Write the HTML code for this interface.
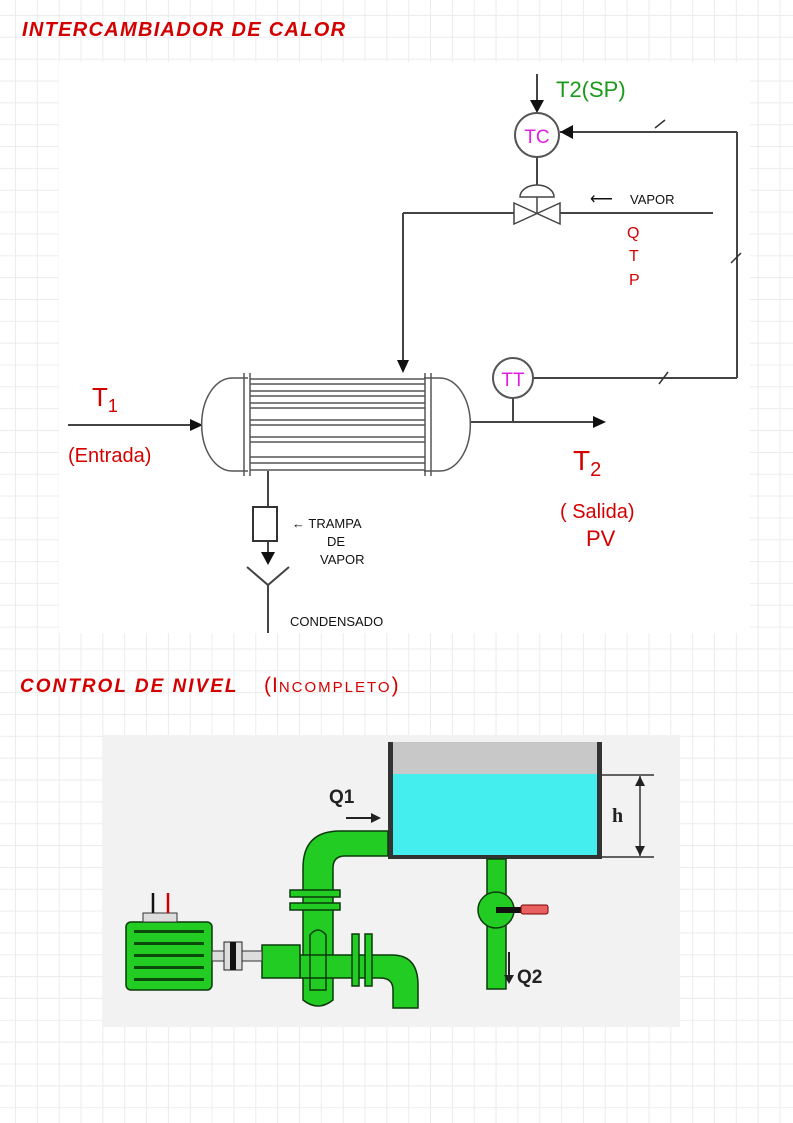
<!DOCTYPE html>
<html><head><meta charset="utf-8"><style>
html,body{margin:0;padding:0}
body{width:793px;height:1123px;overflow:hidden;background:#fff;position:relative;
background-image:linear-gradient(#ececec 1px,transparent 1px),linear-gradient(90deg,#ececec 1px,transparent 1px);
background-size:21.85px 21.85px;background-position:15px 15px;}
svg{position:absolute;left:0;top:0}
</style></head><body>
<svg width="793" height="1123" viewBox="0 0 793 1123" xmlns="http://www.w3.org/2000/svg" font-family="Liberation Sans, sans-serif">
<rect x="59" y="62" width="691" height="571" fill="#fff"/>
<text x="22" y="36" font-size="20" font-weight="bold" font-style="italic" fill="#d40000" letter-spacing="1.3">INTERCAMBIADOR  DE CALOR</text>
<text x="20" y="692" font-size="19" font-weight="bold" font-style="italic" fill="#d40000" letter-spacing="2">CONTROL DE NIVEL</text>
<text x="264" y="692" font-size="21" fill="#d40000" letter-spacing="1">(I<tspan font-size="15" letter-spacing="2">NCOMPLETO</tspan>)</text>

<g stroke="#444" stroke-width="2" fill="none">
<line x1="537" y1="74" x2="537" y2="102"/>
<line x1="537" y1="157" x2="537" y2="188"/>
<line x1="560" y1="132" x2="737" y2="132"/>
<line x1="737" y1="132" x2="737" y2="378"/>
<line x1="533" y1="378" x2="737" y2="378"/>
<line x1="403" y1="213" x2="515" y2="213"/>
<line x1="559" y1="213" x2="713" y2="213"/>
<line x1="403" y1="213" x2="403" y2="362"/>
<line x1="68" y1="425" x2="190" y2="425"/>
<line x1="470" y1="422" x2="593" y2="422"/>
<line x1="513" y1="398" x2="513" y2="422"/>
<line x1="268" y1="471" x2="268" y2="507"/>
<line x1="268" y1="541" x2="268" y2="552"/>
<polyline points="247,567 268,585 289,567"/>
<line x1="268" y1="585" x2="268" y2="633"/>
</g>
<g stroke="#333" stroke-width="1.5">
<line x1="655" y1="128" x2="665" y2="120"/><line x1="731" y1="263" x2="741" y2="253"/><line x1="659" y1="384" x2="668" y2="372"/>
</g>
<g fill="#111">
<polygon points="530,100 544,100 537,113"/>
<polygon points="560,132 573,125 573,139"/>
<polygon points="397,360 409,360 403,373"/>
<polygon points="190,419 190,431 203,425"/>
<polygon points="593,416 593,428 606,422"/>
<polygon points="261,552 275,552 268,565"/>
</g>
<circle cx="537" cy="135" r="22" fill="#fff" stroke="#555" stroke-width="2"/>
<text x="537" y="143" font-size="19" fill="#e020e0" text-anchor="middle">TC</text>
<circle cx="513" cy="378" r="20" fill="#fff" stroke="#555" stroke-width="2"/>
<text x="513" y="386" font-size="19" fill="#e020e0" text-anchor="middle">TT</text>
<path d="M520,197 A17,12 0 0 1 554,197 Z" fill="#fff" stroke="#444" stroke-width="1.5"/>
<line x1="537" y1="197" x2="537" y2="213" stroke="#444" stroke-width="1.5"/>
<polygon points="514,203 514,224 560,203 560,224" fill="#fff" stroke="#444" stroke-width="1.5"/>
<path d="M248,378 H232 A30,46 0 0 0 232,471 H248 M424,378 H440 A30,46 0 0 1 440,471 H424" fill="#fff" stroke="#555" stroke-width="1.5"/>
<rect x="248" y="378" width="176" height="93" fill="#fff"/>
<g stroke="#555" stroke-width="1.5">
<line x1="244" y1="373" x2="244" y2="476"/><line x1="250" y1="373" x2="250" y2="476"/>
<line x1="425" y1="373" x2="425" y2="476"/><line x1="431" y1="373" x2="431" y2="476"/>
<line x1="250" y1="379" x2="425" y2="379"/><line x1="250" y1="384" x2="425" y2="384"/>
<line x1="250" y1="391" x2="425" y2="391"/><line x1="250" y1="396" x2="425" y2="396"/>
<line x1="250" y1="403" x2="425" y2="403"/><line x1="250" y1="408" x2="425" y2="408"/>
<line x1="250" y1="420" x2="425" y2="420"/><line x1="250" y1="425" x2="425" y2="425"/>
<line x1="250" y1="437" x2="425" y2="437"/><line x1="250" y1="442" x2="425" y2="442"/>
<line x1="250" y1="457" x2="425" y2="457"/><line x1="250" y1="463" x2="425" y2="463"/>
<line x1="250" y1="470" x2="425" y2="470"/>
</g>
<rect x="253" y="507" width="24" height="34" fill="#fff" stroke="#333" stroke-width="2"/>
<g font-size="13" fill="#111">
<text x="630" y="204">VAPOR</text>
<text x="292" y="528">← TRAMPA</text>
<text x="327" y="546">DE</text>
<text x="320" y="564">VAPOR</text>
<text x="290" y="626">CONDENSADO</text>
</g>
<text x="590" y="204" font-size="16" fill="#111">⟵</text>
<g fill="#d40000">
<text x="627" y="238" font-size="16">Q</text>
<text x="629" y="261" font-size="16">T</text>
<text x="629" y="285" font-size="16">P</text>
<text x="92" y="406" font-size="26">T<tspan font-size="18" dy="6">1</tspan></text>
<text x="68" y="462" font-size="20">(Entrada)</text>
<text x="573" y="470" font-size="28">T<tspan font-size="20" dy="6">2</tspan></text>
<text x="560" y="518" font-size="20">( Salida)</text>
<text x="586" y="546" font-size="22">PV</text>
</g>
<text x="556" y="97" font-size="22" fill="#1a9a1a">T2(SP)</text>

<rect x="103" y="735" width="577" height="292" fill="#f2f2f2"/>
<rect x="392" y="742" width="206" height="32" fill="#c8c8c8"/>
<rect x="392" y="774" width="206" height="82" fill="#44eeee"/>
<rect x="388" y="742" width="5" height="117" fill="#333"/>
<rect x="597" y="742" width="5" height="117" fill="#333"/>
<rect x="388" y="855" width="214" height="4" fill="#333"/>
<g stroke="#333" stroke-width="1.5"><line x1="602" y1="775" x2="654" y2="775"/><line x1="602" y1="857" x2="654" y2="857"/><line x1="640" y1="776" x2="640" y2="856"/></g>
<polygon points="635,786 645,786 640,776" fill="#222"/><polygon points="635,846 645,846 640,856" fill="#222"/>
<text x="612" y="822" font-size="20" font-weight="bold" font-family="Liberation Serif, serif" fill="#222">h</text>
<text x="329" y="803" font-size="19" font-weight="bold" fill="#222">Q1</text>
<line x1="346" y1="818" x2="372" y2="818" stroke="#222" stroke-width="2"/><polygon points="371,813 381,818 371,823" fill="#222"/>
<g fill="#22cc22" stroke="#0a3a0a" stroke-width="1.5">
<path d="M388,831 H340 Q303,831 303,868 V1000 Q318,1012 333,1000 V868 Q333,856 345,856 H388 Z"/>
<path d="M300,955 H392 Q418,955 418,985 V1008 H393 V990 Q393,978 380,978 H300 Z"/>
<path d="M262,945 H300 V978 H262 Z"/>
<rect x="290" y="890" width="50" height="7"/><rect x="290" y="903" width="50" height="7"/>
<rect x="352" y="934" width="7" height="52"/><rect x="365" y="934" width="7" height="52"/>
<rect x="126" y="922" width="86" height="68" rx="5"/>
<rect x="487" y="859" width="19" height="130"/>
<circle cx="496" cy="910" r="18"/>
</g>
<path d="M310,935 Q318,925 326,935 V990 H310 Z" fill="none" stroke="#0a3a0a" stroke-width="1.5"/>
<g fill="#0a4a0a"><rect x="134" y="930" width="70" height="3"/><rect x="134" y="942" width="70" height="3"/><rect x="134" y="954" width="70" height="3"/><rect x="134" y="966" width="70" height="3"/><rect x="134" y="978" width="70" height="3"/></g>
<rect x="143" y="913" width="34" height="9" fill="#ddd" stroke="#333"/>
<line x1="153" y1="893" x2="153" y2="913" stroke="#111" stroke-width="2.5"/>
<line x1="168" y1="893" x2="168" y2="913" stroke="#c00" stroke-width="2.5"/>
<rect x="212" y="951" width="50" height="10" fill="#ddd" stroke="#333"/>
<rect x="224" y="942" width="18" height="28" fill="#ddd" stroke="#222"/>
<rect x="230" y="942" width="6" height="28" fill="#111"/>
<rect x="496" y="907" width="25" height="6" fill="#111"/>
<rect x="521" y="905" width="27" height="9" rx="2" fill="#e86060" stroke="#7a0000"/>
<line x1="509" y1="952" x2="509" y2="976" stroke="#222" stroke-width="2"/><polygon points="504,975 514,975 509,984" fill="#222"/>
<text x="517" y="983" font-size="19" font-weight="bold" fill="#222">Q2</text>
</svg>
</body></html>
